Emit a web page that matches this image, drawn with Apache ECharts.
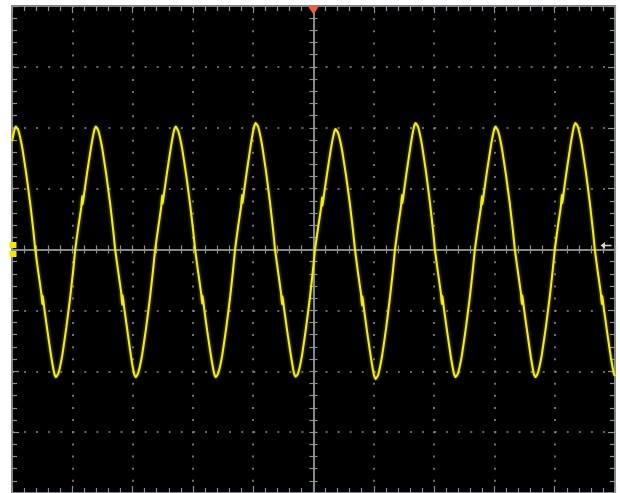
<!DOCTYPE html>
<html>
<head>
<meta charset="utf-8">
<script src="https://cdn.jsdelivr.net/npm/echarts@6/dist/echarts.min.js"></script>
<style>
html,body{margin:0;padding:0;background:#ffffff;}
#chart{width:620px;height:493px;}
</style>
</head>
<body>
<div id="chart"></div>
<script>
// Time in horizontal divisions (-5 .. 5), voltage in vertical divisions (-4 .. 4)
const timeDiv = [
-5.000, -4.961, -4.936, -4.895, -4.828, -4.762, -4.696, -4.646,
-4.614, -4.564, -4.514, -4.498, -4.489, -4.464, -4.415, -4.348, -4.298, -4.273, -4.232, -4.165, -4.099, -4.033, -3.983,
-3.952, -3.902, -3.852, -3.836, -3.827, -3.802, -3.753, -3.686, -3.636, -3.611, -3.570, -3.503, -3.437, -3.371, -3.321,
-3.289, -3.239, -3.189, -3.173, -3.164, -3.139, -3.090, -3.023, -2.973, -2.948, -2.907, -2.840, -2.774, -2.708, -2.658,
-2.626, -2.576, -2.526, -2.510, -2.501, -2.476, -2.427, -2.360, -2.310, -2.285, -2.244, -2.177, -2.111, -2.045, -1.995,
-1.963, -1.913, -1.863, -1.847, -1.838, -1.813, -1.764, -1.697, -1.647, -1.622, -1.581, -1.514, -1.448, -1.382, -1.332,
-1.301, -1.251, -1.201, -1.185, -1.176, -1.151, -1.102, -1.035, -0.985, -0.960, -0.919, -0.852, -0.786, -0.720, -0.670,
-0.638, -0.588, -0.538, -0.522, -0.513, -0.488, -0.439, -0.372, -0.322, -0.297, -0.256, -0.189, -0.123, -0.057, -0.007,
0.025, 0.075, 0.125, 0.141, 0.150, 0.175, 0.224, 0.291, 0.341, 0.366, 0.407, 0.474, 0.540, 0.606, 0.656,
0.688, 0.738, 0.788, 0.804, 0.813, 0.838, 0.887, 0.954, 1.004, 1.029, 1.070, 1.137, 1.203, 1.269, 1.319,
1.351, 1.401, 1.451, 1.467, 1.476, 1.501, 1.550, 1.617, 1.667, 1.692, 1.733, 1.800, 1.866, 1.932, 1.982,
2.013, 2.063, 2.113, 2.129, 2.138, 2.163, 2.212, 2.279, 2.329, 2.354, 2.395, 2.462, 2.528, 2.594, 2.644,
2.676, 2.726, 2.776, 2.792, 2.801, 2.826, 2.875, 2.942, 2.992, 3.017, 3.058, 3.125, 3.191, 3.257, 3.307,
3.339, 3.389, 3.439, 3.455, 3.464, 3.489, 3.538, 3.605, 3.655, 3.680, 3.721, 3.788, 3.854, 3.920, 3.970,
4.002, 4.052, 4.102, 4.118, 4.127, 4.152, 4.201, 4.268, 4.318, 4.343, 4.384, 4.451, 4.517, 4.583, 4.633,
4.665, 4.715, 4.765, 4.781, 4.790, 4.815, 4.864, 4.931, 4.981, 5.000
];
const voltDiv = [
1.78, 1.96, 2.02, 1.96, 1.66, 1.23, 0.74, 0.31,
0, -0.37, -0.72, -0.90, -0.76, -0.97, -1.32, -1.77, -2.04, -2.10, -2.04, -1.73, -1.28, -0.77, -0.32,
0, 0.36, 0.69, 0.88, 0.74, 0.93, 1.27, 1.70, 1.96, 2.02, 1.96, 1.66, 1.23, 0.74, 0.31,
0, -0.36, -0.71, -0.91, -0.75, -0.96, -1.31, -1.78, -2.05, -2.10, -2.03, -1.72, -1.27, -0.76, -0.31,
0, 0.35, 0.70, 0.89, 0.75, 0.94, 1.28, 1.71, 1.97, 2.02, 1.95, 1.65, 1.22, 0.73, 0.30,
0, -0.37, -0.72, -0.89, -0.76, -0.97, -1.33, -1.77, -2.04, -2.10, -2.04, -1.74, -1.29, -0.78, -0.32,
0, 0.37, 0.71, 0.90, 0.76, 0.96, 1.31, 1.75, 2.02, 2.08, 2.02, 1.71, 1.27, 0.76, 0.32,
0, -0.36, -0.72, -0.90, -0.77, -0.97, -1.32, -1.76, -2.04, -2.09, -2.04, -1.73, -1.28, -0.77, -0.32,
0, 0.35, 0.68, 0.86, 0.72, 0.91, 1.24, 1.67, 1.92, 1.98, 1.92, 1.63, 1.21, 0.73, 0.30,
0, -0.38, -0.73, -0.92, -0.77, -0.98, -1.34, -1.79, -2.07, -2.13, -2.07, -1.75, -1.30, -0.78, -0.33,
0, 0.37, 0.71, 0.90, 0.76, 0.96, 1.31, 1.75, 2.02, 2.08, 2.02, 1.71, 1.27, 0.76, 0.32,
0, -0.37, -0.72, -0.90, -0.76, -0.97, -1.32, -1.77, -2.04, -2.10, -2.04, -1.73, -1.28, -0.77, -0.32,
0, 0.36, 0.69, 0.88, 0.74, 0.93, 1.27, 1.70, 1.96, 2.02, 1.96, 1.66, 1.23, 0.74, 0.31,
0, -0.36, -0.71, -0.90, -0.75, -0.96, -1.31, -1.77, -2.05, -2.10, -2.03, -1.72, -1.27, -0.76, -0.31,
0, 0.37, 0.71, 0.90, 0.76, 0.96, 1.31, 1.75, 2.02, 2.08, 2.02, 1.71, 1.27, 0.76, 0.32,
0, -0.37, -0.72, -0.90, -0.76, -0.97, -1.32, -1.77, -2.04, -2.08
];
const triggerPos = [0, 4];      // trigger position marker (top centre)
const groundLevel = [-5, 0];    // channel 1 ground marker (left edge)
const triggerLevel = [5, 0.05]; // trigger level marker (right edge)

const n = Math.min(timeDiv.length, voltDiv.length);
const traceData = [];
for (let i = 0; i < n; i++) traceData.push([timeDiv[i], voltDiv[i]]);

const GRID_COL = '#8e9296';
const DOT_COL = '#8a8a8a';

function xAxisDef(pos, onZero, inside, showLine, split) {
  return {
    type: 'value', min: -5, max: 5, interval: 1, position: pos,
    axisLine: { show: showLine, onZero: onZero, onZeroAxisIndex: 0, lineStyle: { color: GRID_COL, width: 1.5 } },
    axisTick: { show: true, inside: inside, length: onZero ? 4 : 7, lineStyle: { color: GRID_COL, width: 1.2 } },
    minorTick: { show: true, splitNumber: 5, length: onZero ? 4 : 5, lineStyle: { color: GRID_COL, width: 1.2 } },
    axisLabel: { show: false },
    splitLine: { show: split, lineStyle: { color: DOT_COL, width: 1.6, type: [2, 10.15] } },
    minorSplitLine: { show: false }
  };
}
function yAxisDef(pos, onZero, inside, showLine, split) {
  return {
    type: 'value', min: -4, max: 4, interval: 1, position: pos,
    axisLine: { show: showLine, onZero: onZero, onZeroAxisIndex: 0, lineStyle: { color: GRID_COL, width: 1.5 } },
    axisTick: { show: true, inside: inside, length: onZero ? 4 : 7, lineStyle: { color: GRID_COL, width: 1.2 } },
    minorTick: { show: true, splitNumber: 5, length: onZero ? 4 : 5, lineStyle: { color: GRID_COL, width: 1.2 } },
    axisLabel: { show: false },
    splitLine: { show: split, lineStyle: { color: DOT_COL, width: 1.6, type: [2, 10.06] } },
    minorSplitLine: { show: false }
  };
}

const chart = echarts.init(document.getElementById('chart'), null, { renderer: 'canvas' });
chart.setOption({
  animation: false,
  backgroundColor: '#ffffff',
  grid: {
    show: true, left: 12, top: 6, right: 5, bottom: 0,
    backgroundColor: '#000000', borderColor: '#7e848a', borderWidth: 2
  },
  xAxis: [
    xAxisDef('bottom', false, true, false, true),
    xAxisDef('top', false, true, false, false),
    xAxisDef('bottom', true, false, true, false),
    xAxisDef('top', true, false, true, false)
  ],
  yAxis: [
    yAxisDef('left', false, true, false, true),
    yAxisDef('right', false, true, false, false),
    yAxisDef('left', true, false, true, false),
    yAxisDef('right', true, false, true, false)
  ],
  series: [{
    type: 'line',
    xAxisIndex: 0, yAxisIndex: 0,
    data: traceData,
    showSymbol: false,
    smooth: 0.1,
    z: 5,
    lineStyle: { color: '#f2ee14', width: 2, shadowBlur: 3, shadowColor: 'rgba(210,200,0,0.7)' },
    markPoint: {
      silent: true,
      label: { show: false },
      data: [
        { coord: triggerPos, symbol: 'triangle', symbolRotate: 180, symbolSize: [12, 9], symbolOffset: [0, 4],
          itemStyle: { color: '#e8652d' } },
        { coord: groundLevel, symbol: 'path://M0,0 H6 V6 H0 Z M0,9 H6 V15 H0 Z', symbolSize: [7, 15], symbolOffset: [1, 0],
          itemStyle: { color: '#f2e800' } },
        { coord: triggerLevel, symbol: 'path://M0,5 L5,0 L5,4 L12,4 L12,6 L5,6 L5,10 Z', symbolSize: [11, 7], symbolOffset: [-9, -1],
          itemStyle: { color: '#d8d8c8' } }
      ]
    }
  }]
});
</script>
</body>
</html>
